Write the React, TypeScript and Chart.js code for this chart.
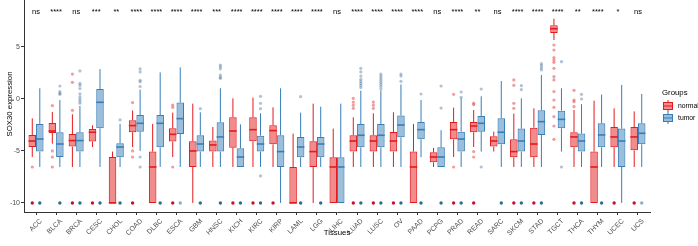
import React, { useEffect, useRef } from "react";
import { Chart, registerables } from "chart.js";
Chart.register(...registerables);

const FONT = '"Liberation Sans", Arial, Helvetica, sans-serif';

const tissues = ["ACC","BLCA","BRCA","CESC","CHOL","COAD","DLBC","ESCA","GBM","HNSC","KICH","KIRC","KIRP","LAML","LGG","LIHC","LUAD","LUSC","OV","PAAD","PCPG","PRAD","READ","SARC","SKCM","STAD","TGCT","THCA","THYM","UCEC","UCS"];
const sig = ["ns","****","ns","***","**","****","****","****","****","***","****","****","****","****","****","ns","****","****","****","****","ns","****","**","ns","****","****","****","**","****","*","ns"];

// normal group
const nLo = [-5.58,-4.3,-6.54,-4.62,-10,-4.62,-10,-5.58,-10,-6.54,-6.54,-6.54,-6.54,-10,-10,-10,-6.54,-6.54,-6.54,-10,-6.54,-5.58,-4.62,-5.06,-6.54,-6.54,5.67,-6.54,-10,-6.54,-6.54];
const nQ1 = [-4.62,-3.27,-4.58,-4.1,-10,-3.2,-10,-4.1,-6.54,-5.06,-4.68,-4.07,-4.36,-10,-6.54,-10,-5.06,-5.06,-5.06,-10,-6.09,-3.88,-3.2,-4.58,-5.6,-5.6,6.35,-4.65,-10,-4.65,-4.94];
const nMed = [-4.04,-3.08,-4.0,-3.2,-10,-2.56,-6.54,-3.4,-5.0,-4.42,-3.08,-2.95,-3.04,-10,-5.06,-6.54,-4.04,-4.04,-4.04,-6.54,-5.58,-2.95,-2.6,-4.04,-5.06,-4.33,6.76,-3.65,-6.54,-3.65,-3.65];
const nQ3 = [-3.46,-2.31,-3.37,-2.88,-5.58,-2.05,-5.06,-2.82,-4.07,-4.0,-1.76,-1.76,-2.53,-6.54,-4.07,-5.6,-3.49,-3.49,-3.17,-5.06,-5.13,-2.21,-2.21,-3.59,-3.88,-2.76,7.08,-3.2,-5.06,-2.7,-2.7];
const nHi = [-1.86,-1.25,-1.47,-2.53,-5.06,-1.1,-2.4,-1.31,-0.45,-2.7,0.06,0.13,-0.8,-3.33,-0.45,-2.85,-1.76,-1.38,-1.28,-2.4,-4.71,-0.83,-1.06,-3.14,-1.4,-0.9,7.72,-1.06,-0.16,-0.9,-1.19];
const nOut = [[-6.54],[-0.64,-5.0,-5.58,-6.54],[2.4,1.6,-1.09],[],[],[-0.35,-5.0,-5.58],[],[-0.58,-0.8,-6.54],[],[],[],[],[],[],[],[],[0.06,-0.3,-0.6,-0.9],[-0.3,-0.6,-0.9],[],[],[],[0.45,-6.54],[-0.4,-0.55,-5.06,-5.58],[],[1.83,1.31,-0.42,-0.9],[],[5.19,4.71,3.97,3.75,3.53,2.95,2.15,1.83,0.71,-0.1,-0.8,-1.7,-2.6,-3.88],[0.83,-0.1,-0.26,-0.74],[],[],[]];
const nFloor = [2,0,2,2,0,2,0,2,0,0,2,2,2,0,0,0,2,2,2,0,0,2,2,0,2,2,0,2,0,2,2];

// tumor group
const tLo = [-6.54,-6.54,-6.54,-6.54,-6.54,-5.0,-6.54,-6.54,-6.54,-6.54,-6.54,-6.54,-10,-6.54,-6.54,-10,-6.54,-6.54,-6.54,-5.6,-6.54,-6.54,-5.06,-6.54,-6.54,-6.54,-5.06,-6.54,-6.54,-10,-6.54];
const tQ1 = [-5.06,-5.58,-5.06,-2.82,-5.6,-3.14,-4.65,-3.37,-5.06,-5.06,-6.54,-5.06,-6.54,-5.6,-5.6,-10,-4.65,-4.65,-3.69,-3.88,-6.54,-5.06,-3.14,-4.36,-5.06,-3.46,-2.82,-5.06,-4.65,-6.54,-4.36];
const tMed = [-3.85,-4.33,-4.0,-0.32,-4.62,-2.34,-2.34,-1.89,-4.33,-3.65,-5.58,-4.33,-5.06,-4.62,-4.33,-6.54,-3.49,-3.49,-2.5,-2.95,-5.58,-3.85,-2.34,-3.2,-4.04,-2.18,-1.96,-4.04,-3.46,-4.04,-3.3];
const tQ3 = [-2.4,-3.2,-3.2,0.96,-4.26,-1.54,-1.54,-0.35,-3.49,-2.24,-4.74,-3.53,-3.49,-3.65,-3.65,-5.6,-2.4,-2.4,-1.6,-2.21,-4.65,-3.14,-1.63,-1.86,-2.85,-1.09,-1.12,-3.33,-2.34,-2.85,-2.34];
const tHi = [1.03,-0.1,-0.67,2.88,-2.4,0.9,2.56,3.04,-1.28,1.03,-2.44,-1.38,1.03,-1.31,-0.74,-0.45,0.8,0.8,1.4,-0.1,-3.0,0.06,0.26,1.73,0.06,2.31,1.03,-0.5,0.42,1.35,0.48];
const tOut = [[],[1.25,0.7,0.54,0.45],[2.7,1.5,1.3,1.0,0.5,0.2,0.0,-0.2,-0.4],[],[-2.0],[2.9,2.6,1.8,1.65,1.2,-5.58,-6.54],[],[],[-0.93],[3.27,3.1,2.9,2.3,2.1,1.99],[],[0.26,-0.42,-0.93,-7.4],[],[0.22],[],[],[2.95,2.6,2.2,1.9,1.7,1.5,1.3,1.1],[2.4,2.2,2.0,1.8,1.6,1.4,1.2,0.95],[2.4,2.2,1.7],[0.48],[1.25,-0.87],[0.67,0.16],[0.96,-6.54],[],[1.28,0.9],[3.4,3.2,3.0,2.8],[3.59,-6.54],[0.45,0.0],[],[],[]];
const tFloor = [2,2,2,2,2,0,2,1,2,2,2,2,0,2,2,0,2,2,2,2,2,2,0,2,2,2,0,2,2,0,1];

const FLOOR_VALUE = -10;
const yTicks = [-10, -5, 0, 5];

const groups = [
  { name: "normal", line: "#E41A1C", fill: "rgba(228,26,28,0.5)", out: "rgba(228,60,60,0.5)", floorDark: "#C8102E", floorLight: "#EE8A8A",
    lo: nLo, q1: nQ1, med: nMed, q3: nQ3, hi: nHi, outl: nOut, floor: nFloor },
  { name: "tumor", line: "#377EB8", fill: "rgba(55,126,184,0.5)", out: "rgba(80,120,160,0.45)", floorDark: "#2A6F8F", floorLight: "#8AAFCB",
    lo: tLo, q1: tQ1, med: tMed, q3: tQ3, hi: tHi, outl: tOut, floor: tFloor },
];

const boxPlugin = {
  id: "boxExtras",
  beforeDatasetsDraw(chart: any) {
    const ctx = chart.ctx;
    const ys = chart.scales.y;
    groups.forEach((g, di) => {
      const meta = chart.getDatasetMeta(di);
      meta.data.forEach((el: any, i: number) => {
        const x = el.x;
        ctx.save();
        ctx.strokeStyle = g.line;
        ctx.lineWidth = 1;
        ctx.beginPath();
        ctx.moveTo(x, ys.getPixelForValue(g.q3[i]));
        ctx.lineTo(x, ys.getPixelForValue(g.hi[i]));
        ctx.moveTo(x, ys.getPixelForValue(g.q1[i]));
        ctx.lineTo(x, ys.getPixelForValue(g.lo[i]));
        ctx.stroke();
        ctx.restore();
      });
    });
  },
  afterDatasetsDraw(chart: any) {
    const ctx = chart.ctx;
    const ys = chart.scales.y;
    groups.forEach((g, di) => {
      const meta = chart.getDatasetMeta(di);
      meta.data.forEach((el: any, i: number) => {
        const x = el.x;
        const w = el.width;
        ctx.save();
        ctx.strokeStyle = g.line;
        ctx.lineWidth = 1.6;
        const my = ys.getPixelForValue(g.med[i]);
        ctx.beginPath();
        ctx.moveTo(x - w / 2, my);
        ctx.lineTo(x + w / 2, my);
        ctx.stroke();
        ctx.fillStyle = g.out;
        g.outl[i].forEach((v: number) => {
          ctx.beginPath();
          ctx.arc(x, ys.getPixelForValue(v), 1.6, 0, Math.PI * 2);
          ctx.fill();
        });
        if (g.floor[i]) {
          ctx.fillStyle = g.floor[i] === 2 ? g.floorDark : g.floorLight;
          ctx.beginPath();
          ctx.arc(x, ys.getPixelForValue(FLOOR_VALUE), 1.7, 0, Math.PI * 2);
          ctx.fill();
        }
        ctx.restore();
      });
    });
  },
  afterDraw(chart: any) {
    const ctx = chart.ctx;
    const xs = chart.scales.x;
    const ys = chart.scales.y;
    const area = chart.chartArea;
    ctx.save();
    // significance labels
    ctx.fillStyle = "#000";
    ctx.font = `7.5px ${FONT}`;
    ctx.textAlign = "center";
    ctx.textBaseline = "alphabetic";
    sig.forEach((s, i) => {
      ctx.fillText(s, xs.getPixelForValue(i), ys.getPixelForValue(8.2));
    });
    // axis titles
    ctx.font = `7.8px ${FONT}`;
    ctx.textBaseline = "middle";
    ctx.fillText("Tissues", (area.left + area.right) / 2, 233);
    ctx.save();
    ctx.translate(10, 104);
    ctx.rotate(-Math.PI / 2);
    ctx.fillText("SOX30 expression", 0, 0);
    ctx.restore();
    // legend
    ctx.textAlign = "left";
    ctx.font = `7.8px ${FONT}`;
    ctx.fillText("Groups", 662, 93);
    ctx.font = `6.8px ${FONT}`;
    groups.forEach((g, k) => {
      const cy = 106 + k * 12;
      const cx = 668;
      ctx.strokeStyle = g.line;
      ctx.lineWidth = 1;
      ctx.beginPath();
      ctx.moveTo(cx, cy - 6);
      ctx.lineTo(cx, cy + 6);
      ctx.stroke();
      ctx.fillStyle = "#fff";
      ctx.fillRect(cx - 4.5, cy - 3.5, 9, 7);
      ctx.fillStyle = g.fill;
      ctx.fillRect(cx - 4.5, cy - 3.5, 9, 7);
      ctx.strokeRect(cx - 4.5, cy - 3.5, 9, 7);
      ctx.beginPath();
      ctx.moveTo(cx - 4.5, cy);
      ctx.lineTo(cx + 4.5, cy);
      ctx.stroke();
      ctx.fillStyle = "#000";
      ctx.fillText(g.name, 678, cy);
    });
    ctx.restore();
  },
};

export default function App() {
  const ref = useRef<HTMLCanvasElement>(null);
  useEffect(() => {
    document.body.style.margin = "0";
    const chart = new Chart(ref.current as HTMLCanvasElement, {
      type: "bar",
      data: {
        datasets: groups.map((g) => ({
          label: g.name,
          data: tissues.map((_, i) => ({ x: i, y: [g.q1[i], g.q3[i]] })) as any,
          backgroundColor: g.fill,
          borderColor: g.line,
          borderWidth: 1,
          borderSkipped: false,
          categoryPercentage: 0.75,
          barPercentage: 1,
        })),
      },
      options: {
        animation: false,
        responsive: false,
        devicePixelRatio: 1,
        layout: { padding: { left: 0, right: 48, top: 0, bottom: 0 } },
        plugins: { legend: { display: false }, tooltip: { enabled: false } },
        scales: {
          x: {
            type: "linear",
            min: -0.6,
            max: tissues.length - 1 + 0.6,
            offset: false,
            afterBuildTicks: (s: any) => { s.ticks = tissues.map((_, i) => ({ value: i })); },
            afterFit: (s: any) => { s.height = 34; s.paddingLeft = 0; s.paddingRight = 0; },
            ticks: {
              autoSkip: false,
              minRotation: 45,
              maxRotation: 45,
              padding: 2,
              labelOffset: 5,
              color: "#4D4D4D",
              font: { family: FONT, size: 7 },
              callback: (v: any) => tissues[v] ?? "",
            },
            grid: { display: true, drawOnChartArea: false, drawTicks: true, tickLength: 3, color: "#333", offset: false },
            border: { display: true, color: "#333", width: 1 },
          },
          y: {
            type: "linear",
            min: -10.87,
            max: 9.52,
            afterBuildTicks: (s: any) => { s.ticks = yTicks.map((v) => ({ value: v })); },
            afterFit: (s: any) => { s.width = 24; s.paddingTop = 0; s.paddingBottom = 0; },
            ticks: { padding: 1, color: "#4D4D4D", font: { family: FONT, size: 7 } },
            grid: { display: true, drawOnChartArea: false, drawTicks: true, tickLength: 3, color: "#333" },
            border: { display: true, color: "#333", width: 1 },
          },
        },
      } as any,
      plugins: [boxPlugin],
    });
    return () => chart.destroy();
  }, []);
  return (
    <div style={{ width: 698, height: 246 }}>
      <canvas ref={ref} width={698} height={246} style={{ display: "block" }} />
    </div>
  );
}
